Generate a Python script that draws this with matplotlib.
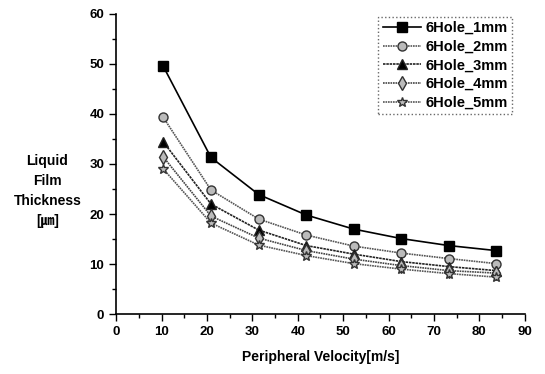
import matplotlib
matplotlib.use('Agg')
import matplotlib.pyplot as plt
from matplotlib.ticker import MultipleLocator

# peripheral velocity [m/s]
velocity = [10.4, 20.9, 31.4, 41.9, 52.3, 62.8, 73.3, 83.7]

hole_1mm = [49.5, 31.3, 23.9, 19.8, 17.0, 15.1, 13.7, 12.7]
hole_2mm = [39.3, 24.8, 19.0, 15.8, 13.6, 12.2, 11.1, 10.1]
hole_3mm = [34.4, 22.0, 16.8, 13.7, 12.0, 10.5, 9.5, 8.7]
hole_4mm = [31.4, 19.6, 15.2, 12.7, 11.0, 9.7, 8.7, 8.2]
hole_5mm = [29.0, 18.2, 13.8, 11.7, 10.1, 9.0, 8.1, 7.4]

labels = ['6Hole_1mm', '6Hole_2mm', '6Hole_3mm', '6Hole_4mm', '6Hole_5mm']

plt.rcParams['font.family'] = ['Liberation Sans', 'DejaVu Sans']
plt.rcParams['font.weight'] = 'bold'

fig = plt.figure(figsize=(5.45, 3.74), dpi=100)
ax = fig.add_axes([0.213, 0.160, 0.750, 0.803])

styles = [
    dict(color='black', marker='s', ls='-', mfc='black', ms=6.5),
    dict(color='#555555', marker='o', ls=(0, (1, 0.5)), mfc='#bbbbbb', mec='#333333', ms=6.5),
    dict(color='#222222', marker='^', ls=(0, (1.5, 0.5)), mfc='black', ms=6.5),
    dict(color='#444444', marker='d', ls=(0, (1, 0.5)), mfc='#bbbbbb', mec='#333333', ms=7),
    dict(color='#555555', marker='*', ls=(0, (1, 0.5)), mfc='#bbbbbb', mec='#333333', ms=7.5),
]

for ys, lab, st in zip([hole_1mm, hole_2mm, hole_3mm, hole_4mm, hole_5mm], labels, styles):
    ax.plot(velocity, ys, label=lab, lw=1.2, **st)

ax.set_xlim(0, 90)
ax.set_ylim(0, 60)
ax.xaxis.set_major_locator(MultipleLocator(10))
ax.xaxis.set_minor_locator(MultipleLocator(5))
ax.yaxis.set_major_locator(MultipleLocator(10))
ax.yaxis.set_minor_locator(MultipleLocator(5))
ax.tick_params(which='major', direction='out', length=5, width=1, labelsize=9.5)
ax.tick_params(which='minor', direction='out', length=3, width=1)

ax.spines['top'].set_visible(False)
ax.spines['right'].set_visible(False)
ax.spines['left'].set_linewidth(1.2)
ax.spines['bottom'].set_linewidth(1.2)

ax.set_xlabel('Peripheral Velocity[m/s]', fontsize=10, fontweight='bold', labelpad=9)
fig.text(0.087, 0.49, 'Liquid\nFilm\nThickness\n[\u339b]', ha='center', va='center',
         fontsize=10, fontweight='bold', linespacing=1.55,
         family=['Liberation Sans', 'Noto Sans CJK JP', 'DejaVu Sans'])

leg = ax.legend(loc='upper right', bbox_to_anchor=(0.968, 0.99), fontsize=10.5,
                frameon=True, fancybox=False, handlelength=2.6, handletextpad=0.3,
                borderpad=0.3, labelspacing=0.32, borderaxespad=0)
leg.get_frame().set_edgecolor('#444444')
leg.get_frame().set_linestyle(':')
leg.get_frame().set_linewidth(1)

fig.savefig('out.png', dpi=100)
